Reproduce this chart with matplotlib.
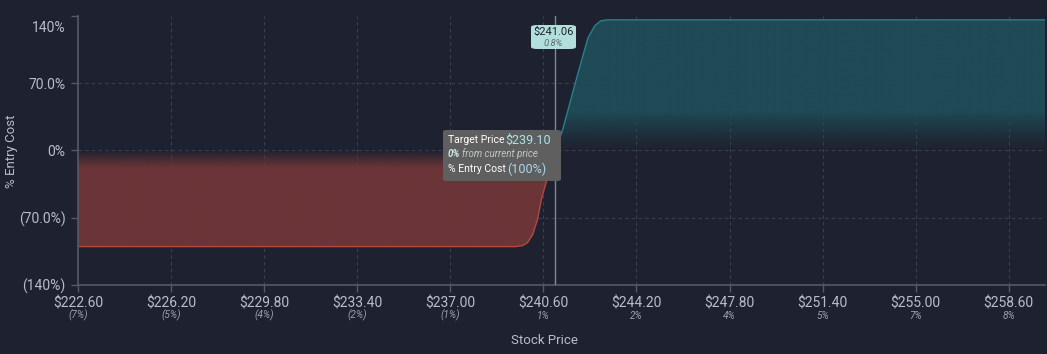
import numpy as np
import matplotlib
matplotlib.use('Agg')
import matplotlib.pyplot as plt
from matplotlib.patches import FancyBboxPatch
from matplotlib.transforms import ScaledTranslation

plt.rcParams['font.family'] = ['Roboto', 'DejaVu Sans']

# payoff curve
prices = [222.60, 239.52, 239.79, 239.98, 240.18, 240.37, 240.52, 241.06,
          241.35, 241.85, 242.32, 242.59, 242.82, 243.09, 260.00]
values = [-100, -100, -99, -96, -88, -72, -51, 0,
          22, 72, 117, 130, 135, 136, 136]

xticks = [222.60, 226.20, 229.80, 233.40, 237.00, 240.60, 244.20, 247.80, 251.40, 255.00, 258.60]
xpct = ['(7%)', '(5%)', '(4%)', '(2%)', '(1%)', '1%', '2%', '4%', '5%', '7%', '8%']
yticks = [-140, -70, 0, 70, 140]
ylabels = ['(140%)', '(70.0%)', '0%', '70.0%', '140%']

breakeven = 241.06
breakeven_pct = '0.8%'
target = '$239.10'

bg = '#1e2230'
grid = '#3b4050'
tickc = '#b8bdc8'

fig = plt.figure(figsize=(10.47, 3.54), dpi=100, facecolor=bg)
ax = fig.add_axes([78 / 1047, 1 - 285 / 354, 967 / 1047, 269 / 354], facecolor=bg)
ax.set_xlim(222.60, 260.0)
ax.set_ylim(-140, 140)

x = np.array(prices)
y = np.array(values, dtype=float)

# red (loss) part and teal (profit) part
mr = y <= 0
xr = np.append(x[mr], breakeven)
yr = np.append(y[mr], 0)
mt = y >= 0
xt = x[mt]
yt = y[mt]

# fill fading towards the zero line
def fill_profile(xs, ys, color, sign):
    poly = ax.fill_between(xs, ys, 0, color='none', lw=0)
    rgb = matplotlib.colors.to_rgb(color)
    n = 300
    if sign > 0:
        yy = np.linspace(0, 140, n)
        a = np.clip(yy / 40.0, 0, 1) ** 1.2
        ext = [222.6, 260, 0, 140]
    else:
        yy = np.linspace(-140, 0, n)
        a = np.clip(-yy / 18.0, 0, 1)
        ext = [222.6, 260, -140, 0]
    img = np.zeros((n, 2, 4))
    img[:, :, :3] = rgb
    img[:, :, 3] = a[:, None]
    im = ax.imshow(img, extent=ext, origin='lower', aspect='auto',
                   interpolation='bilinear', zorder=1)
    im.set_clip_path(poly.get_paths()[0], transform=ax.transData)

fill_profile(xr, yr, '#6b3538', -1)
fill_profile(xt, yt, '#1f4a56', 1)
ax.plot(xr, yr, color='#b5473f', lw=1.0, zorder=2)
ax.plot(xt, yt, color='#2a7f8c', lw=1.0, zorder=2)

# grid
for t in xticks[1:]:
    ax.axvline(t, color=grid, lw=0.8, ls=(0, (3, 3)), zorder=0.5)
for t in yticks[1:-1]:
    ax.axhline(t, color=grid, lw=0.8, ls=(0, (3, 3)), zorder=0.5)

ax.axvline(breakeven, color='#7d8a99', lw=1.0, zorder=3)

for s in ['top', 'right']:
    ax.spines[s].set_visible(False)
for s in ['left', 'bottom']:
    ax.spines[s].set_color('#555a66')
    ax.spines[s].set_linewidth(1.2)

ax.set_xticks(xticks)
ax.set_xticklabels(['${:.2f}'.format(t) for t in xticks])
ax.set_yticks(yticks)
ax.set_yticklabels(ylabels)
ax.tick_params(axis='both', colors='#555a66', labelcolor=tickc, labelsize=10, length=5, width=1)
ax.tick_params(axis='x', pad=3)
ax.tick_params(axis='y', pad=4)
top_lbl = ax.get_yticklabels()[-1]
top_lbl.set_transform(top_lbl.get_transform() + ScaledTranslation(0, -0.11, fig.dpi_scale_trans))

for t, p in zip(xticks, xpct):
    ax.annotate(p, xy=(t, 0), xycoords=('data', 'axes fraction'), xytext=(0, -22),
                textcoords='offset points', ha='center', va='center',
                fontsize=7.3, style='italic', color='#9aa0ab')

fig.text(544 / 1047, 1 - 340 / 354, 'Stock Price', ha='center', va='center', fontsize=9.5, color=tickc)
fig.text(12 / 1047, 1 - 151 / 354, '% Entry Cost', ha='center', va='center', rotation=90, fontsize=9.5, color=tickc)

# breakeven label box
bx = FancyBboxPatch((531 / 1047, 1 - 49 / 354), 45 / 1047, 24 / 354,
                    boxstyle='round,pad=0,rounding_size=0.006', transform=fig.transFigure,
                    facecolor='#b2dfdb', edgecolor='none', zorder=5)
fig.patches.append(bx)
fig.text(553.5 / 1047, 1 - 32 / 354, '${:.2f}'.format(breakeven), ha='center', va='center', fontsize=8, color='#1e2230', zorder=6)
fig.text(553.5 / 1047, 1 - 43 / 354, breakeven_pct, ha='center', va='center', fontsize=6.8, style='italic', color='#5a6a70', zorder=6)

# tooltip
tb = FancyBboxPatch((443 / 1047, 1 - 181 / 354), 118 / 1047, 51 / 354,
                    boxstyle='round,pad=0,rounding_size=0.004', transform=fig.transFigure,
                    facecolor='#5f5f5f', edgecolor='none', zorder=5)
fig.patches.append(tb)
fig.text(448 / 1047, 1 - 140 / 354, 'Target Price', ha='left', va='center', fontsize=7.5, color='white', zorder=6)
fig.text(505 / 1047, 1 - 140 / 354, target, ha='left', va='center', fontsize=9, color='#a8e6e6', zorder=6)
fig.text(448 / 1047, 1 - 154 / 354, '0%', ha='left', va='center', fontsize=7, style='italic', weight='bold', color='#c8e8e8', zorder=6)
fig.text(462 / 1047, 1 - 154 / 354, 'from current price', ha='left', va='center', fontsize=7, style='italic', color='#c0c8c8', zorder=6)
fig.text(448 / 1047, 1 - 169 / 354, '% Entry Cost', ha='left', va='center', fontsize=7.5, color='white', zorder=6)
fig.text(507 / 1047, 1 - 169 / 354, '(100%)', ha='left', va='center', fontsize=9, color='#a8d8f0', zorder=6)

fig.savefig('out.png', dpi=100, facecolor=bg)
